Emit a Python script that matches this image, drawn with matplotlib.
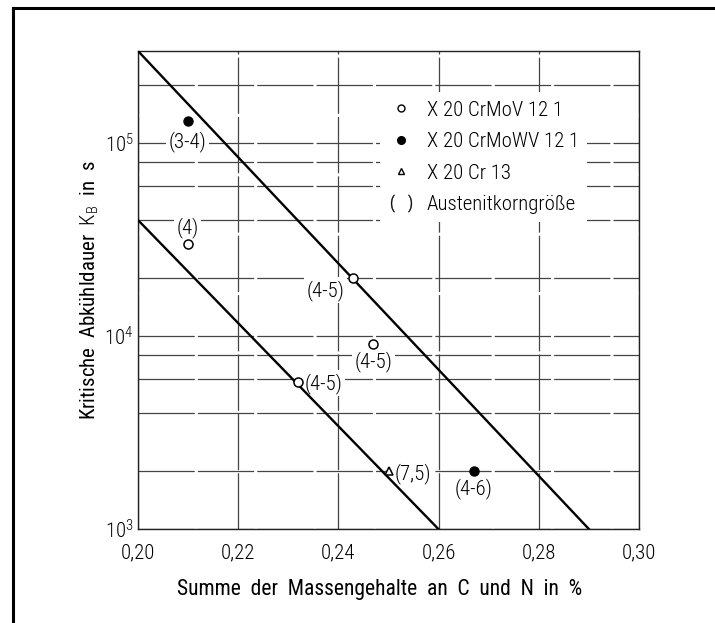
import math
import matplotlib
matplotlib.use('Agg')
import matplotlib.pyplot as plt
from matplotlib.lines import Line2D
from matplotlib.ticker import FixedLocator, NullFormatter, FuncFormatter

plt.rcParams['font.family'] = ['Roboto Condensed', 'Roboto', 'DejaVu Sans']
plt.rcParams['font.weight'] = 'light'
plt.rcParams['mathtext.fontset'] = 'custom'
plt.rcParams['mathtext.rm'] = 'Roboto Condensed:light'
plt.rcParams['mathtext.it'] = 'Roboto Condensed:light'

# Messpunkte je Stahlsorte (Summe C+N in %, kritische Abkuehldauer in s)
crmov_x = [0.210, 0.243, 0.247, 0.232]
crmov_y = [3.0e4, 2.0e4, 9.1e3, 5.8e3]
crmov_lbl = ['(4)', '(4-5)', '(4-5)', '(4-5)']

crmowv_x = [0.210, 0.267]
crmowv_y = [1.3e5, 2.0e3]
crmowv_lbl = ['(3-4)', '(4-6)']

cr13_x = [0.250]
cr13_y = [2.0e3]
cr13_lbl = ['(7,5)']

# Grenzgeraden
upper_x = [0.20, 0.29]
upper_y = [3.0e5, 1.0e3]
lower_x = [0.20, 0.26]
lower_y = [4.0e4, 1.0e3]

x_ticks = [0.20, 0.22, 0.24, 0.26, 0.28, 0.30]
y_ticks = [1e3, 1e4, 1e5]
y_grid = [2e3, 4e3, 6e3, 8e3, 2e4, 4e4, 6e4, 8e4, 2e5]

ink = '#000000'
fs = 15
grid_kw = dict(color='#444444', linewidth=0.9, linestyle=(0, (45, 2.5)))

fig = plt.figure(figsize=(7.15, 6.23), dpi=100)
ax = fig.add_axes([137.7 / 715, 1 - 529.3 / 623, 501.6 / 715, 478.6 / 623])

ax.set_yscale('log')
ax.set_xlim(0.20, 0.30)
ax.set_ylim(1e3, 3e5)

ax.set_xticks(x_ticks)
ax.xaxis.set_major_formatter(FuncFormatter(lambda v, p: f'{v:.2f}'.replace('.', ',')))
ax.yaxis.set_major_locator(FixedLocator(y_ticks))
ax.yaxis.set_minor_locator(FixedLocator(y_grid))
ax.yaxis.set_minor_formatter(NullFormatter())
ax.yaxis.set_major_formatter(FuncFormatter(lambda v, p: r'$\mathrm{10^{%d}}$' % round(math.log10(v))))

ax.tick_params(which='both', length=0, colors=ink, labelsize=fs)
ax.tick_params(axis='x', pad=10.5)
ax.tick_params(axis='y', pad=3)
ax.grid(True, which='both', **grid_kw)
ax.set_axisbelow(True)
for s in ax.spines.values():
    s.set_linewidth(1.0)
    s.set_color('#222222')

ax.plot(upper_x, upper_y, color=ink, linewidth=1.7, zorder=4)
ax.plot(lower_x, lower_y, color=ink, linewidth=1.7, zorder=4)

ax.plot(crmov_x, crmov_y, 'o', ms=6.5, mfc='white', mec=ink, mew=1.1, zorder=6)
ax.plot(crmowv_x, crmowv_y, 'o', ms=6.5, mfc=ink, mec=ink, mew=1.0, zorder=6)
ax.plot(cr13_x, cr13_y, '^', ms=6, mfc='white', mec=ink, mew=1.1, zorder=6)

# Korngroessen neben den Punkten
box = dict(boxstyle='square,pad=0.12', fc='white', ec='none')
offsets = {
    'crmov': [(0, 12), (-20, -9), (0, -12.5), (18.5, -1)],
    'crmowv': [(0, -14.5), (0, -12.5)],
    'cr13': [(17.5, -1.5)],
}
for key, xs, ys, lbls in [('crmov', crmov_x, crmov_y, crmov_lbl),
                          ('crmowv', crmowv_x, crmowv_y, crmowv_lbl),
                          ('cr13', cr13_x, cr13_y, cr13_lbl)]:
    for (x, y, t, off) in zip(xs, ys, lbls, offsets[key]):
        ax.annotate(t, xy=(x, y), xytext=off, textcoords='offset points',
                    ha='center', va='center', fontsize=fs, color=ink,
                    bbox=box, zorder=3)

handles = [
    Line2D([], [], ls='none', marker='o', ms=5, mfc='white', mec=ink, mew=1.0),
    Line2D([], [], ls='none', marker='o', ms=5.5, mfc=ink, mec=ink),
    Line2D([], [], ls='none', marker='^', ms=5, mfc='white', mec=ink, mew=1.0),
    Line2D([], [], ls='none', marker=r'$(\ \ \ )$', ms=15, color=ink, mew=0.3),
]
names = ['X 20 CrMoV 12 1', 'X 20 CrMoWV 12 1', 'X 20 Cr 13', 'Austenitkorngröße']
leg = ax.legend(handles, names, loc='upper left', bbox_to_anchor=(0.462, 0.935),
                fontsize=fs, frameon=True, fancybox=False, framealpha=1,
                edgecolor='none', facecolor='white', handlelength=1.2,
                handletextpad=0.65, labelspacing=0.6, borderpad=0.4)
for t in leg.get_texts():
    t.set_color(ink)

ax.set_xlabel('Summe  der  Massengehalte  an  C  und  N  in  %', fontsize=15.5, color=ink)
ax.xaxis.set_label_coords(0.483, -0.125)
ax.xaxis.label.set_va('center')
ax.set_ylabel(r'Kritische  Abkühldauer  $\mathrm{K_B}$  in  s', fontsize=fs, color=ink)
ax.yaxis.set_label_coords(-0.095, 0.5)
ax.yaxis.label.set_va('center')

# Rahmen um die Abbildung (oben und links)
fig.add_artist(Line2D([13 / 715, 1.0], [1 - 7.5 / 623] * 2, color='black', lw=2.2))
fig.add_artist(Line2D([13 / 715] * 2, [1 - 7.5 / 623, 1 - 622 / 623], color='black', lw=2.2))

fig.savefig('out.png', dpi=100, facecolor='white')
